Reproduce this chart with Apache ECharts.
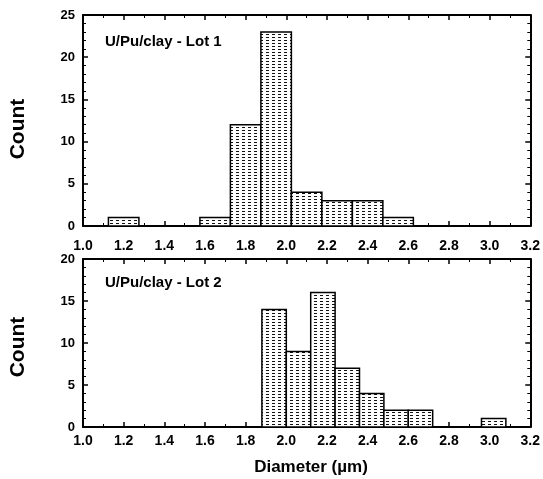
<!DOCTYPE html>
<html>
<head>
<meta charset="utf-8">
<script src="https://cdn.jsdelivr.net/npm/echarts@6/dist/echarts.min.js"></script>
<style>
html, body { margin: 0; padding: 0; background: #fff; }
#chart { width: 543px; height: 479px; }
</style>
</head>
<body>
<div id="chart"></div>
<script>
// bin starts (µm) and counts
const lot1Starts = [1.125, 1.275, 1.425, 1.575, 1.725, 1.875, 2.025, 2.175, 2.325, 2.475];
const lot1Counts = [1, 0, 0, 1, 12, 23, 4, 3, 3, 1];
const lot1Width = 0.15;

const lot2Starts = [1.88, 2.0, 2.12, 2.24, 2.36, 2.48, 2.6, 2.72, 2.84, 2.96];
const lot2Counts = [14, 9, 16, 7, 4, 2, 2, 0, 0, 1];
const lot2Width = 0.12;

const lot1Title = "U/Pu/clay - Lot 1";
const lot2Title = "U/Pu/clay - Lot 2";

const font = "'Liberation Sans', Arial, sans-serif";

// dotted fill like the printed stipple
const pat = document.createElement("canvas");
pat.width = 6;
pat.height = 3;
const pc = pat.getContext("2d");
pc.fillStyle = "#fff";
pc.fillRect(0, 0, 6, 3);
pc.fillStyle = "#111";
pc.fillRect(2, 1, 3, 1);

function renderBins(width) {
    return function (params, api) {
        const x0 = api.value(0);
        const n = api.value(1);
        if (!n) {
            return;
        }
        const p0 = api.coord([x0, 0]);
        const p1 = api.coord([x0 + width, n]);
        return {
            type: "rect",
            shape: { x: p0[0], y: p1[1], width: p1[0] - p0[0], height: p0[1] - p1[1] },
            style: { fill: { image: pat, repeat: "repeat" }, stroke: "#000", lineWidth: 1.5 }
        };
    };
}

const lineStyle = { color: "#000", width: 2 };
const labelStyle = { color: "#000", fontFamily: font, fontWeight: "bold" };

function xAxisFor(grid, bottom, margin) {
    return {
        type: "value", gridIndex: grid, position: bottom ? "bottom" : "top",
        min: 1.0, max: 3.2, interval: 0.2,
        axisLine: { show: true, onZero: false, lineStyle: lineStyle },
        axisTick: { show: true, inside: true, length: 5, lineStyle: { color: "#000", width: 1.5 } },
        minorTick: { show: true, splitNumber: 2, length: 3, lineStyle: { color: "#000", width: 1 } },
        splitLine: { show: false },
        axisLabel: bottom
            ? Object.assign({ margin: margin, fontSize: 14, formatter: (v) => v.toFixed(1) }, labelStyle)
            : { show: false }
    };
}

function yAxisFor(grid, max, left) {
    return {
        type: "value", gridIndex: grid, position: left ? "left" : "right",
        min: 0, max: max, interval: 5,
        axisLine: { show: true, onZero: false, lineStyle: lineStyle },
        axisTick: { show: true, inside: true, length: 5, lineStyle: { color: "#000", width: 1.5 } },
        minorTick: { show: true, splitNumber: 5, length: 3, lineStyle: { color: "#000", width: 1 } },
        splitLine: { show: false },
        axisLabel: left ? Object.assign({ margin: 8, fontSize: 13 }, labelStyle) : { show: false }
    };
}

function countLabel(y) {
    return {
        type: "text", x: 18, y: y, rotation: Math.PI / 2,
        style: { text: "Count", fill: "#000", font: "bold 21px " + font, align: "center", verticalAlign: "middle" }
    };
}

const chart = echarts.init(document.getElementById("chart"));
chart.setOption({
    animation: false,
    backgroundColor: "#fff",
    grid: [
        { left: 83, right: 12, top: 15, height: 211 },
        { left: 83, right: 12, top: 259, height: 168 }
    ],
    xAxis: [xAxisFor(0, true, 13), xAxisFor(0, false), xAxisFor(1, true, 7), xAxisFor(1, false)],
    yAxis: [yAxisFor(0, 25, true), yAxisFor(0, 25, false), yAxisFor(1, 20, true), yAxisFor(1, 20, false)],
    graphic: [
        { type: "text", left: 105, top: 34, style: { text: lot1Title, fill: "#000", font: "bold 15px " + font } },
        { type: "text", left: 105, top: 275, style: { text: lot2Title, fill: "#000", font: "bold 15px " + font } },
        {
            type: "text", x: 311, y: 467,
            style: { text: "Diameter (µm)", fill: "#000", font: "bold 17px " + font, align: "center", verticalAlign: "middle" }
        },
        countLabel(129),
        countLabel(347)
    ],
    series: [
        {
            type: "custom", xAxisIndex: 0, yAxisIndex: 0,
            renderItem: renderBins(lot1Width),
            data: lot1Starts.map((s, i) => [s, lot1Counts[i]])
        },
        {
            type: "custom", xAxisIndex: 2, yAxisIndex: 2,
            renderItem: renderBins(lot2Width),
            data: lot2Starts.map((s, i) => [s, lot2Counts[i]])
        }
    ]
});
</script>
</body>
</html>
